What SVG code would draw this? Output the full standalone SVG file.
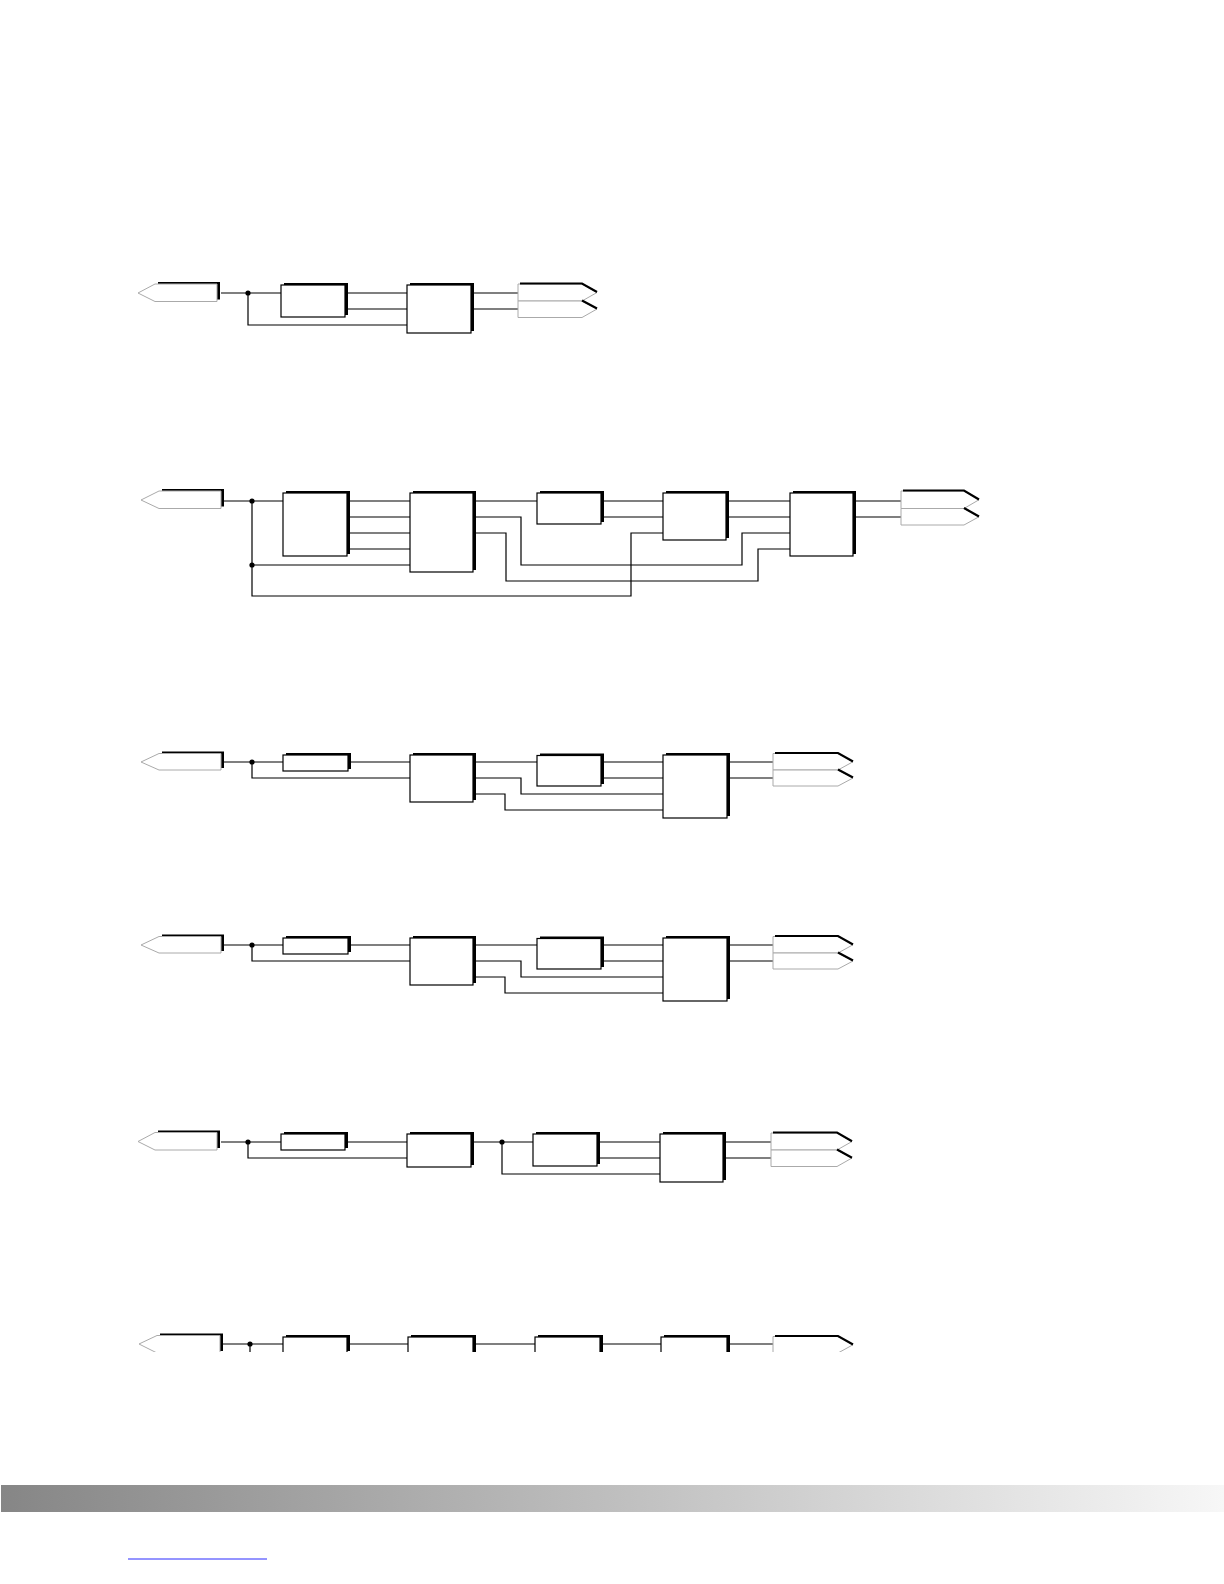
<svg xmlns="http://www.w3.org/2000/svg" width="1224" height="1584" viewBox="0 0 1224 1584">
<defs>
<style>
.box{fill:#fff;stroke:#000;stroke-width:1.2}
.sh{fill:#000}
.w{fill:none;stroke:#000;stroke-width:1.2}
.pin{fill:#fff;stroke:#aaa;stroke-width:1}
.blk{fill:none;stroke:#000;stroke-width:2.2}
.dot{fill:#000}
</style>
<linearGradient id="bar" x1="0" y1="0" x2="1" y2="0">
<stop offset="0" stop-color="#868686"/>
<stop offset="1" stop-color="#f7f7f7"/>
</linearGradient>
<clipPath id="cut"><rect x="0" y="0" width="1224" height="1352"/></clipPath>
</defs>
<rect width="1224" height="1584" fill="#fff"/>

<!-- Diagram 1 -->
<g id="diagram1">
<g id="d1-connectors">
<path class="w" d="M221,293 H281 M345,293 H407 M345,309 H407 M248,293 V325 H407 M471,293 H518 M471,309 H518"/>
<circle class="dot" cx="248" cy="293" r="2.6"/>
</g>
<g id="d1-in"><rect class="sh" x="158" y="282" width="62" height="17.5"/><polygon class="pin" points="217,284 155,284 138,293 155,301.5 217,301.5"/></g>
<g id="d1-b1"><rect class="sh" x="284" y="283" width="64" height="32"/><rect class="box" x="281" y="285" width="64" height="32"/></g>
<g id="d1-b2"><rect class="sh" x="410" y="283" width="64" height="48"/><rect class="box" x="407" y="285" width="64" height="48"/></g>
<g id="d1-out">
<polygon class="pin" points="518,284 582,284 597,292.5 582,301 518,301"/>
<polygon class="pin" points="518,301 582,301 597,309 582,317.5 518,317.5"/>
<path class="blk" d="M520,283.5 H582 L597,292 M582,300.5 L597,308.5"/>
</g>
</g>

<!-- Diagram 2 -->
<g id="diagram2">
<g id="d2-connectors">
<path class="w" d="M224,501 H283 M347,501 H410 M347,517 H410 M347,533 H410 M347,549 H410 M252,501 V596 H631 V533 H663 M252,565 H410 M473,501 H537 M473,517 H521 V565 H742 V533 H790 M473,533 H506 V581 H758 V549 H790 M601,501 H663 M601,517 H663 M726,501 H790 M726,517 H790 M853,501 H901 M853,517 H901"/>
<circle class="dot" cx="252" cy="501" r="2.6"/>
<circle class="dot" cx="252" cy="565" r="2.6"/>
</g>
<g id="d2-in"><rect class="sh" x="162" y="489" width="62" height="17.5"/><polygon class="pin" points="221,491 159,491 141,500 159,508.5 221,508.5"/></g>
<g id="d2-a"><rect class="sh" x="286" y="491" width="64" height="63"/><rect class="box" x="283" y="493" width="64" height="63"/></g>
<g id="d2-b"><rect class="sh" x="413" y="491" width="63" height="79"/><rect class="box" x="410" y="493" width="63" height="79"/></g>
<g id="d2-c"><rect class="sh" x="540" y="491" width="64" height="31"/><rect class="box" x="537" y="493" width="64" height="31"/></g>
<g id="d2-d"><rect class="sh" x="666" y="491" width="63" height="47"/><rect class="box" x="663" y="493" width="63" height="47"/></g>
<g id="d2-e"><rect class="sh" x="793" y="491" width="63" height="63"/><rect class="box" x="790" y="493" width="63" height="63"/></g>
<g id="d2-out">
<polygon class="pin" points="901,491 964,491 979,499.75 964,508.5 901,508.5"/>
<polygon class="pin" points="901,508.5 964,508.5 979,516.75 964,525 901,525"/>
<path class="blk" d="M903,490.5 H964 L979,499.5 M964,508 L979,516.5"/>
</g>
</g>

<!-- Diagram 3 -->
<g id="diagram3">
<g id="d3-connectors">
<path class="w" d="M224,762 H283 M348,762 H410 M252,762 V778 H410 M473,762 H537 M473,778 H521 V794 H663 M473,794 H505 V810 H663 M601,762 H663 M601,778 H663 M727,762 H773 M727,778 H773"/>
<circle class="dot" cx="252" cy="762" r="2.6"/>
</g>
<g id="d3-in"><rect class="sh" x="162" y="751.5" width="62" height="16.5"/><polygon class="pin" points="221,753.5 159,753.5 141,762 159,770 221,770"/></g>
<g id="d3-a"><rect class="sh" x="286" y="753" width="65" height="16"/><rect class="box" x="283" y="755" width="65" height="16"/></g>
<g id="d3-b"><rect class="sh" x="413" y="753" width="63" height="47"/><rect class="box" x="410" y="755" width="63" height="47"/></g>
<g id="d3-c"><rect class="sh" x="540" y="753.5" width="64" height="30.5"/><rect class="box" x="537" y="755.5" width="64" height="30.5"/></g>
<g id="d3-d"><rect class="sh" x="666" y="753" width="64" height="63"/><rect class="box" x="663" y="755" width="64" height="63"/></g>
<g id="d3-out">
<polygon class="pin" points="773,753.5 838,753.5 853,761.75 838,770 773,770"/>
<polygon class="pin" points="773,770 838,770 853,778 838,786 773,786"/>
<path class="blk" d="M775,753 H838 L853,761.5 M838,769.5 L853,777.5"/>
</g>
</g>

<!-- Diagram 4 -->
<g id="diagram4" transform="translate(0,183)">
<g id="d4-connectors">
<path class="w" d="M224,762 H283 M348,762 H410 M252,762 V778 H410 M473,762 H537 M473,778 H521 V794 H663 M473,794 H505 V810 H663 M601,762 H663 M601,778 H663 M727,762 H773 M727,778 H773"/>
<circle class="dot" cx="252" cy="762" r="2.6"/>
</g>
<g id="d4-in"><rect class="sh" x="162" y="751.5" width="62" height="16.5"/><polygon class="pin" points="221,753.5 159,753.5 141,762 159,770 221,770"/></g>
<g id="d4-a"><rect class="sh" x="286" y="753" width="65" height="16"/><rect class="box" x="283" y="755" width="65" height="16"/></g>
<g id="d4-b"><rect class="sh" x="413" y="753" width="63" height="47"/><rect class="box" x="410" y="755" width="63" height="47"/></g>
<g id="d4-c"><rect class="sh" x="540" y="753.5" width="64" height="30.5"/><rect class="box" x="537" y="755.5" width="64" height="30.5"/></g>
<g id="d4-d"><rect class="sh" x="666" y="753" width="64" height="63"/><rect class="box" x="663" y="755" width="64" height="63"/></g>
<g id="d4-out">
<polygon class="pin" points="773,753.5 838,753.5 853,761.75 838,770 773,770"/>
<polygon class="pin" points="773,770 838,770 853,778 838,786 773,786"/>
<path class="blk" d="M775,753 H838 L853,761.5 M838,769.5 L853,777.5"/>
</g>
</g>

<!-- Diagram 5 -->
<g id="diagram5">
<g id="d5-connectors">
<path class="w" d="M221,1142 H281 M345,1142 H407 M248,1142 V1158 H407 M471,1142 H533 M502,1142 V1174 H660 M597,1142 H660 M597,1158 H660 M723,1142 H771 M723,1158 H771"/>
<circle class="dot" cx="248" cy="1142" r="2.6"/>
<circle class="dot" cx="502" cy="1142" r="2.6"/>
</g>
<g id="d5-in"><rect class="sh" x="158" y="1130.5" width="62" height="17.5"/><polygon class="pin" points="217,1132.5 155,1132.5 138,1141.5 155,1150 217,1150"/></g>
<g id="d5-a"><rect class="sh" x="284" y="1132" width="64" height="16"/><rect class="box" x="281" y="1134" width="64" height="16"/></g>
<g id="d5-b"><rect class="sh" x="410" y="1132" width="64" height="33"/><rect class="box" x="407" y="1134" width="64" height="33"/></g>
<g id="d5-c"><rect class="sh" x="536" y="1132" width="64" height="32"/><rect class="box" x="533" y="1134" width="64" height="32"/></g>
<g id="d5-d"><rect class="sh" x="663" y="1132" width="63" height="48"/><rect class="box" x="660" y="1134" width="63" height="48"/></g>
<g id="d5-out">
<polygon class="pin" points="771,1133 837,1133 852,1141.5 837,1150 771,1150"/>
<polygon class="pin" points="771,1150 837,1150 852,1158 837,1166.5 771,1166.5"/>
<path class="blk" d="M773,1132.5 H837 L852,1141.25 M837,1149.5 L852,1157.75"/>
</g>
</g>

<!-- Diagram 6 (cut off at the bottom) -->
<g id="diagram6" clip-path="url(#cut)">
<g id="d6-connectors">
<path class="w" d="M223,1344 H283 M347,1344 H408 M250,1344 V1360 M473,1344 H535 M600,1344 H661 M727,1344 H773"/>
<circle class="dot" cx="250" cy="1344" r="2.6"/>
</g>
<g id="d6-in"><rect class="sh" x="160" y="1333.5" width="63" height="17.5"/><polygon class="pin" points="220,1335.5 157,1335.5 139,1344 157,1353 220,1353"/></g>
<g id="d6-a"><rect class="sh" x="286" y="1335" width="64" height="16"/><rect class="box" x="283" y="1337" width="64" height="16"/></g>
<g id="d6-b"><rect class="sh" x="411" y="1335" width="65" height="48"/><rect class="box" x="408" y="1337" width="65" height="48"/></g>
<g id="d6-c"><rect class="sh" x="538" y="1335" width="65" height="32"/><rect class="box" x="535" y="1337" width="65" height="32"/></g>
<g id="d6-d"><rect class="sh" x="664" y="1335" width="66" height="48"/><rect class="box" x="661" y="1337" width="66" height="48"/></g>
<g id="d6-out">
<polygon class="pin" points="773,1336.5 838,1336.5 853,1344.75 838,1353 773,1353"/>
<path class="blk" d="M775,1336 H838 L853,1344.5"/>
</g>
</g>

<!-- footer -->
<rect x="1" y="1485" width="1223" height="27" fill="url(#bar)"/>
<line x1="128" y1="1559" x2="267" y2="1559" stroke="#2a2aff" stroke-width="1"/>
</svg>
